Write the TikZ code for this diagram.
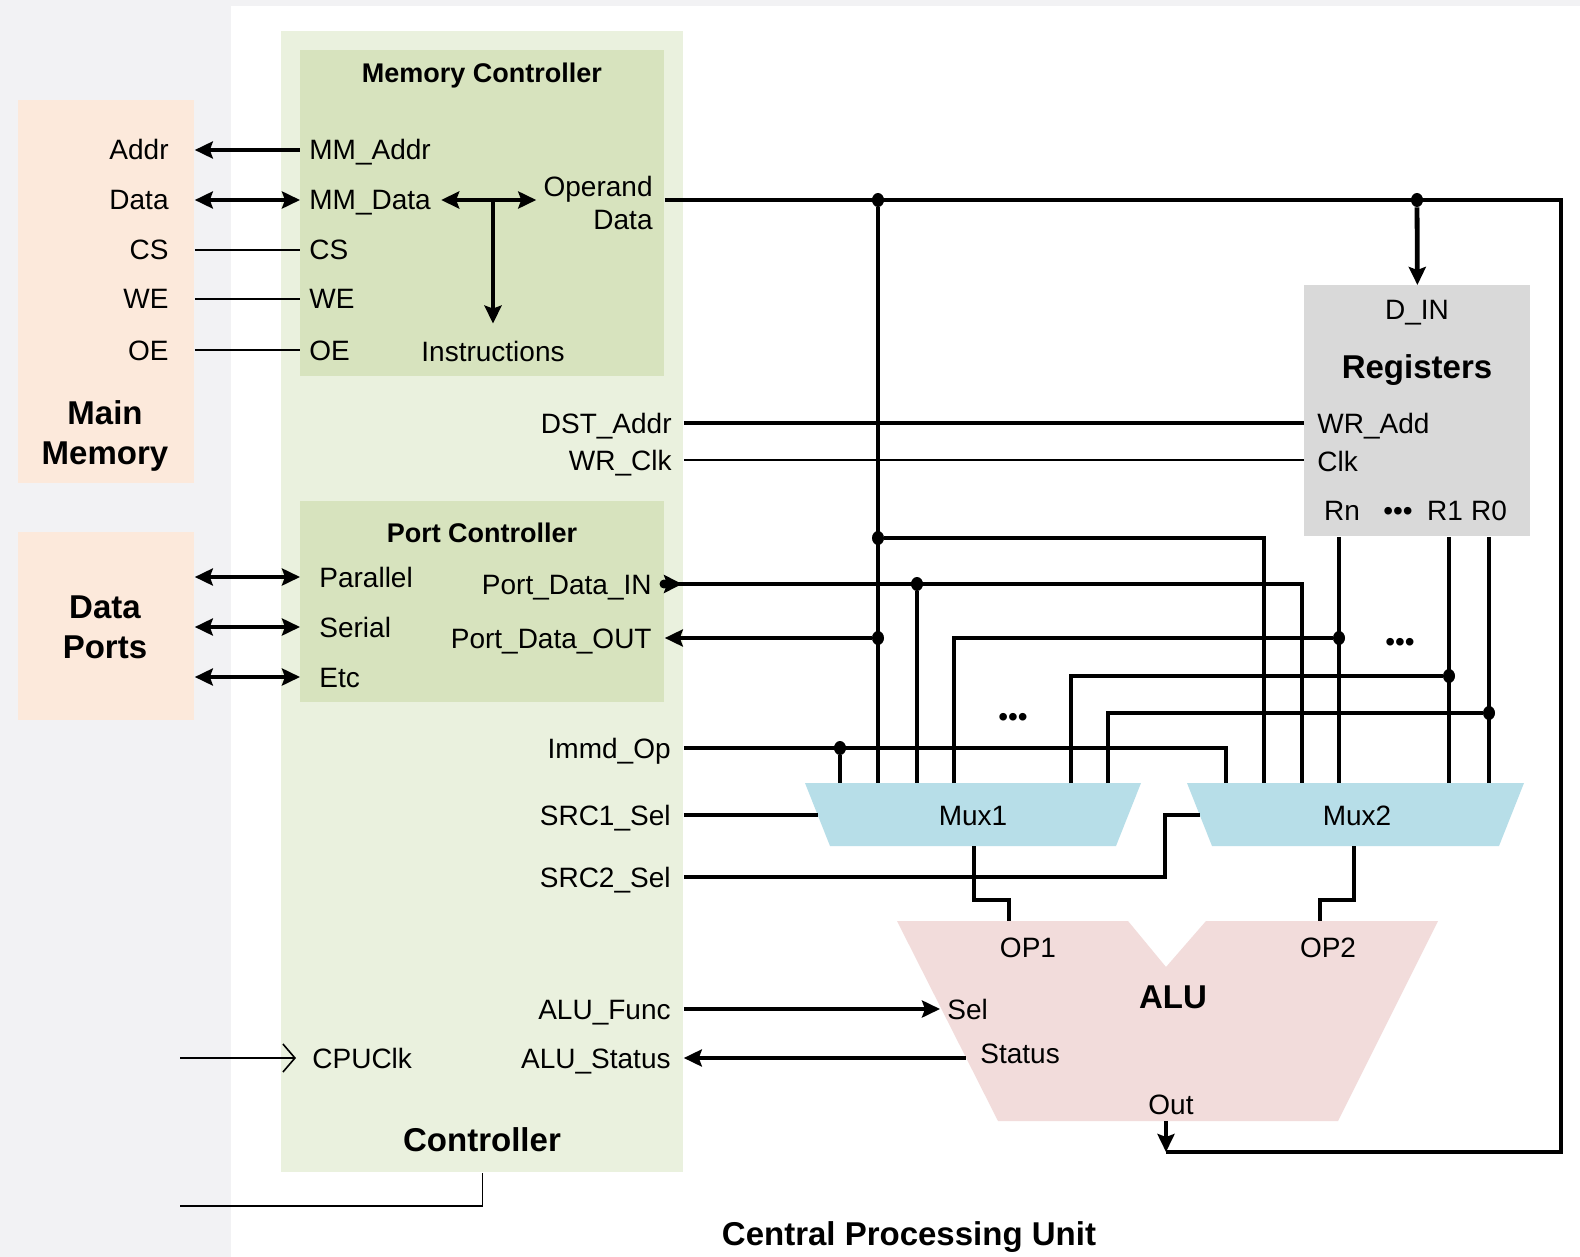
\documentclass[tikz,border=0pt]{standalone}
\usepackage{fontspec}
\setmainfont{Liberation Sans}
\usetikzlibrary{arrows.meta, shapes.geometric}

\definecolor{sidegray}{RGB}{242,242,244}
\definecolor{ctrlgreen}{RGB}{234,241,222}
\definecolor{subgreen}{RGB}{215,227,190}
\definecolor{peach}{RGB}{252,233,219}
\definecolor{reggray}{RGB}{217,217,217}
\definecolor{muxblue}{RGB}{183,222,232}
\definecolor{alupink}{RGB}{242,220,219}

\begin{document}
\begin{tikzpicture}[
    x=0.5pt, y=-0.5pt,
    >={Stealth[length=9pt,width=8.5pt,inset=1.5pt]},
    bus/.style={line width=2.4pt},
    wire/.style={line width=0.8pt},
    lbl/.style={inner sep=0pt, text height=10pt, text depth=0pt,
        font=\fontsize{14}{17}\selectfont},
    lbltwo/.style={inner sep=0pt, align=right,
        font=\fontsize{14}{16.5}\selectfont},
    ttl/.style={inner sep=0pt, text height=9.7pt, text depth=0pt,
        font=\fontsize{13.5}{16}\selectfont\bfseries},
    bigttl/.style={inner sep=0pt, align=center,
        font=\fontsize{16.5}{20}\selectfont\bfseries},
    blk/.style={draw=none, inner sep=0pt, anchor=north west},
    junc/.style={ellipse, fill=black, inner sep=0pt, minimum width=6pt, minimum height=7pt}
]

\useasboundingbox (0,0) rectangle (1580,1257);
\fill[sidegray] (0,0) rectangle (1580,1257);
\fill[white] (231,6) rectangle (1580,1257);

%------------------------------------------------
% Bloky
%------------------------------------------------
\node[blk, fill=peach, minimum width=88pt, minimum height=191.5pt] (mainmem) at (18,100) {};
\node[blk, fill=peach, minimum width=88pt, minimum height=94pt] (dataports) at (18,532) {};
\node[blk, fill=ctrlgreen, minimum width=201pt, minimum height=570.5pt] (ctrl) at (281,31) {};
\node[blk, fill=subgreen, minimum width=182pt, minimum height=163pt] (memctrl) at (300,50) {};
\node[blk, fill=subgreen, minimum width=182pt, minimum height=100.5pt] (portctrl) at (300,501) {};
\node[blk, fill=reggray, minimum width=113pt, minimum height=125.5pt] (regs) at (1304,285) {};

\fill[muxblue] (805,783) -- (1141,783) -- (1116,846) -- (830,846) -- cycle;
\fill[muxblue] (1187,783) -- (1524,783) -- (1499,846) -- (1212,846) -- cycle;
\fill[alupink] (897,921) -- (1128,921) -- (1166,967) -- (1206,921) -- (1438,921)
    -- (1338,1121) -- (998,1121) -- cycle;

%------------------------------------------------
% Popisky
%------------------------------------------------
\node[lbl, anchor=east] (addr) at (169,150) {Addr};
\node[lbl, anchor=east] (mdata) at (169,200) {Data};
\node[lbl, anchor=east] (cs) at (169,250) {CS};
\node[lbl, anchor=east] (we) at (169,299) {WE};
\node[lbl, anchor=east] (oe) at (169,350) {OE};
\node[bigttl] (mmname) at (105,436) {Main\\Memory};
\node[bigttl] (dpname) at (105,627) {Data\\Ports};

\node[ttl] (mctitle) at (482,73) {Memory Controller};
\node[lbl, anchor=west] (mmaddr) at (309,150) {MM\_Addr};
\node[lbl, anchor=west] (mmdata) at (309,200) {MM\_Data};
\node[lbl, anchor=west] (mccs) at (309,250) {CS};
\node[lbl, anchor=west] (mcwe) at (309,299) {WE};
\node[lbl, anchor=west] (mcoe) at (309,350) {OE};
\node[lbltwo, anchor=east] (operand) at (653,203) {Operand\\Data};
\node[lbl] (instr) at (493,351) {Instructions};

\node[lbl, anchor=east] (dst) at (672,423) {DST\_Addr};
\node[lbl, anchor=east] (wrclk) at (672,460) {WR\_Clk};

\node[ttl] (pctitle) at (482,533) {Port Controller};
\node[lbl, anchor=west] (par) at (319,577) {Parallel};
\node[lbl, anchor=west] (ser) at (319,627) {Serial};
\node[lbl, anchor=west] (etc) at (319,677) {Etc};
\node[lbl, anchor=east] (pdin) at (652,584) {Port\_Data\_IN};
\node[lbl, anchor=east] (pdout) at (652,638) {Port\_Data\_OUT};

\node[lbl, anchor=east] (immd) at (671,748) {Immd\_Op};
\node[lbl, anchor=east] (src1) at (671,815) {SRC1\_Sel};
\node[lbl, anchor=east] (src2) at (671,877) {SRC2\_Sel};
\node[lbl, anchor=east] (alufunc) at (671,1009) {ALU\_Func};
\node[lbl, anchor=east] (alustatus) at (671,1058) {ALU\_Status};
\node[lbl, anchor=west] (cpuclk) at (312,1058) {CPUClk};
\node[bigttl] (ctrlname) at (482,1140) {Controller};

\node[lbl] (din) at (1417,310) {D\_IN};
\node[bigttl] (regname) at (1417,370) {Registers};
\node[lbl, anchor=west] (wradd) at (1317,423) {WR\_Add};
\node[lbl, anchor=west] (clk) at (1317,461) {Clk};
\node[lbl] (rn) at (1342,510) {Rn};
\node[lbl] (rdots) at (1398,510) {•••};
\node[lbl] (r1) at (1445,510) {R1};
\node[lbl] (r0) at (1489,510) {R0};

\node[lbl] (mux1) at (973,815) {Mux1};
\node[lbl] (mux2) at (1357,815) {Mux2};
\node[lbl] (dots1) at (1013,716) {•••};
\node[lbl] (dots2) at (1400,641) {•••};

\node[lbl] (op1) at (1028,947) {OP1};
\node[lbl] (op2) at (1328,947) {OP2};
\node[bigttl] (aluname) at (1173,997) {ALU};
\node[lbl, anchor=west] (sel) at (947,1009) {Sel};
\node[lbl, anchor=west] (status) at (980,1053) {Status};
\node[lbl] (out) at (1171,1104) {Out};

\node[bigttl] (cpuname) at (909,1237) {Central Processing Unit};

%------------------------------------------------
% Body spojů
%------------------------------------------------
\coordinate (tjoin) at (493,200);
\coordinate (busne) at (1561,200);
\coordinate (busse) at (1561,1152);
\coordinate (aluout) at (1166,1152);
\coordinate (aluo) at (1166,1121);
\coordinate (alustat) at (966,1058);
\coordinate (m1sel) at (818,815);
\coordinate (m2sel) at (1200,815);
\coordinate (src2up) at (1165,815);
\coordinate (m1out) at (974,846);
\coordinate (m2out) at (1354,846);
\coordinate (op1in) at (1009,921);
\coordinate (op2in) at (1320,921);
\coordinate (clkin) at (180,1058);
\coordinate (rstin) at (180,1206);

% vstupy multiplexorů
\coordinate (m1in1) at (840,783);
\coordinate (m1in2) at (878,783);
\coordinate (m1in3) at (917,783);
\coordinate (m1in4) at (954,783);
\coordinate (m1in5) at (1071,783);
\coordinate (m1in6) at (1108,783);
\coordinate (m2in1) at (1226,783);
\coordinate (m2in2) at (1264,783);
\coordinate (m2in3) at (1302,783);
\coordinate (m2in4) at (1339,783);
\coordinate (m2in5) at (1449,783);
\coordinate (m2in6) at (1489,783);

\node[junc] (jop1) at (878,200) {};
\node[junc] (jop2) at (1417,200) {};
\node[junc] (jop3) at (878,538) {};
\node[junc] (jout) at (878,638) {};
\node[junc] (jpin) at (917,584) {};
\node[junc, minimum width=4.5pt, minimum height=4.5pt] (pinstart) at (664,584) {};
\node[junc] (jrn) at (1339,638) {};
\node[junc] (jr1) at (1449,676) {};
\node[junc] (jr0) at (1489,713) {};
\node[junc] (jimm) at (840,748) {};

%------------------------------------------------
% Spoje
%------------------------------------------------
\draw[bus, <-] (mainmem.east |- addr) -- (memctrl.west |- addr);
\draw[bus, <->] (mainmem.east |- mdata) -- (memctrl.west |- mdata);
\draw[wire] (mainmem.east |- cs) -- (memctrl.west |- cs);
\draw[wire] (mainmem.east |- we) -- (memctrl.west |- we);
\draw[wire] (mainmem.east |- oe) -- (memctrl.west |- oe);

\draw[bus, <->] (dataports.east |- par) -- (portctrl.west |- par);
\draw[bus, <->] (dataports.east |- ser) -- (portctrl.west |- ser);
\draw[bus, <->] (dataports.east |- etc) -- (portctrl.west |- etc);

\draw[bus, <->] ([xshift=5pt]mmdata.east) -- ([xshift=-3.5pt]operand.west |- tjoin);
\draw[bus, ->] (tjoin) -- ([yshift=8.5pt]instr.north);

% datová sběrnice operandů
\draw[bus] (memctrl.east |- tjoin) -- (busne) -- (busse) -- (aluout);
\draw[bus, ->] (jop2) -- (regs.north);
\draw[bus, ->] (aluo) -- (aluout);
\draw[bus] (jop1) -- (m1in2);
\draw[bus] (jop3) -| (m2in2);
\draw[bus, ->] (jout) -- (portctrl.east |- jout);
\draw[bus, {Stealth[reversed,length=9pt,width=9pt,inset=1.5pt]}-] (pinstart.center) -| (m2in3);
\draw[bus] (jpin) -- (m1in3);

\draw[bus] (ctrl.east |- dst) -- (regs.west |- dst);
\draw[wire] (ctrl.east |- wrclk) -- (regs.west |- wrclk);

% výstupy registrů
\draw[bus] (regs.south -| m2in4) -- (m2in4);
\draw[bus] (regs.south -| m2in5) -- (m2in5);
\draw[bus] (regs.south -| m2in6) -- (m2in6);
\draw[bus] (m1in4) |- (jrn);
\draw[bus] (m1in5) |- (jr1);
\draw[bus] (m1in6) |- (jr0);

\draw[bus] (ctrl.east |- immd) -| (m2in1);
\draw[bus] (jimm) -- (m1in1);
\draw[bus] (ctrl.east |- src1) -- (m1sel);
\draw[bus] (ctrl.east |- src2) -| (src2up) -- (m2sel);

\draw[bus] (m1out) -- ++(0,54) -| (op1in);
\draw[bus] (m2out) -- ++(0,54) -| (op2in);

\draw[bus, ->] (ctrl.east |- alufunc) -- ([xshift=-3.5pt]sel.west);
\draw[bus, ->] (alustat) -- (ctrl.east |- alustat);

\draw[wire, -{Straight Barb[length=6pt,width=14pt]}] (clkin) -- ([xshift=-8pt]cpuclk.west);
\draw[wire] (rstin) -| (ctrl.south);

\end{tikzpicture}
\end{document}
